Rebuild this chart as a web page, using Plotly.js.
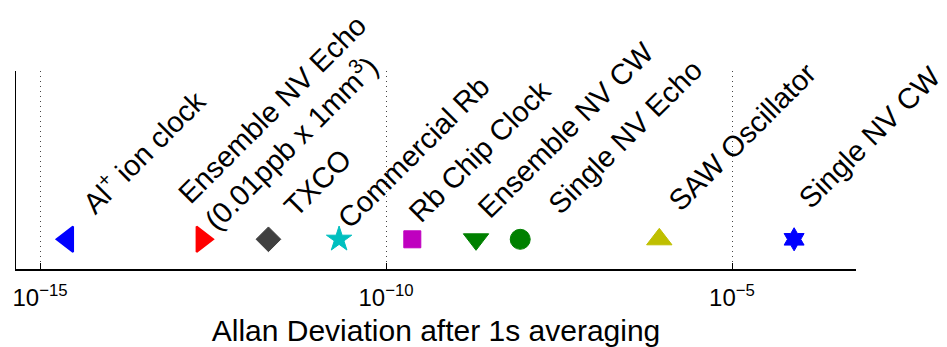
<!DOCTYPE html>
<html>
<head>
<meta charset="utf-8">
<script src="https://cdn.plot.ly/plotly-3.0.1.min.js"></script>
<style>html,body{margin:0;padding:0;background:#fff;}#chart{width:947px;height:347px;}</style>
</head>
<body>
<div id="chart"></div>
<script>
// Data
const labels = [
  "Al<sup>+</sup> ion clock",
  "Ensemble NV Echo<br>(0.01ppb x 1mm<sup>3</sup>)",
  "TXCO",
  "Commercial Rb",
  "Rb Chip Clock",
  "Ensemble NV CW",
  "Single NV Echo",
  "SAW Oscillator",
  "Single NV CW"
];
const allanDev = [2.5e-15, 2.2e-13, 2.0e-12, 2.1e-11, 2.4e-10, 2.0e-9, 8.7e-9, 8.9e-7, 7.9e-5];
const rowY = [0.15, 0.15, 0.15, 0.15, 0.15, 0.15, 0.15, 0.15, 0.15];
const tickVals = [1e-15, 1e-10, 1e-5];
const tickText = ["10<sup>\u221215</sup>", "10<sup>\u221210</sup>", "10<sup>\u22125</sup>"];

// Styles
const symbols = ["triangle-left", "triangle-right", "diamond", "star", "square", "triangle-down", "circle", "triangle-up", "hexagram"];
const colors = ["#0000FF", "#FF0000", "#404040", "#00BFBF", "#BF00BF", "#008000", "#008000", "#BFBF00", "#0000FF"];
const sizes = [22, 22, 19, 19, 17, 22, 20, 22, 17.5];
const lineWidths = [2, 2, 1, 1, 1, 1, 1, 1, 1];
const labelShiftX = [3, -33, 6, -10, -12, -7, 19, 0, -4];
const labelShiftY = [17, 0, 14, 2, 8, 12, 16, 20, 22];

const font = "Liberation Sans, Arial, Helvetica, sans-serif";

const trace = {
  x: allanDev,
  y: rowY,
  type: "scatter",
  mode: "markers",
  marker: {
    symbol: symbols,
    color: colors,
    size: sizes,
    opacity: 1,
    line: {color: colors, width: lineWidths}
  },
  hoverinfo: "skip",
  showlegend: false
};

const annotations = labels.map((t, i) => ({
  text: t,
  x: Math.log10(allanDev[i]),
  y: rowY[i],
  xref: "x",
  yref: "y",
  showarrow: false,
  textangle: -45,
  xanchor: "left",
  yanchor: "bottom",
  align: "left",
  xshift: labelShiftX[i],
  yshift: labelShiftY[i],
  font: {family: font, size: 29, color: "#000"}
}));

const layout = {
  width: 947,
  height: 347,
  margin: {l: 16, r: 91, t: 71, b: 78},
  paper_bgcolor: "#fff",
  plot_bgcolor: "#fff",
  font: {family: font, color: "#000"},
  xaxis: {
    type: "log",
    range: [-15.347, -3.208],
    tickmode: "array",
    tickvals: tickVals,
    ticktext: tickText,
    ticks: "inside",
    ticklen: 6,
    tickwidth: 1,
    tickcolor: "#000",
    ticklabelstandoff: 7,
    tickfont: {family: font, size: 24, color: "#000"},
    showgrid: true,
    gridcolor: "#444",
    gridwidth: 1,
    griddash: "1px,4px",
    showline: true,
    linecolor: "#000",
    linewidth: 1.5,
    zeroline: false,
    automargin: false,
    title: {text: "Allan Deviation after 1s averaging", font: {family: font, size: 30, color: "#000"}, standoff: 9}
  },
  yaxis: {
    range: [0, 1],
    showticklabels: false,
    ticks: "",
    showgrid: false,
    zeroline: false,
    showline: true,
    linecolor: "#000",
    linewidth: 1.5,
    automargin: false
  },
  annotations: annotations
};

Plotly.newPlot("chart", [trace], layout, {displayModeBar: false, staticPlot: true});
</script>
</body>
</html>
